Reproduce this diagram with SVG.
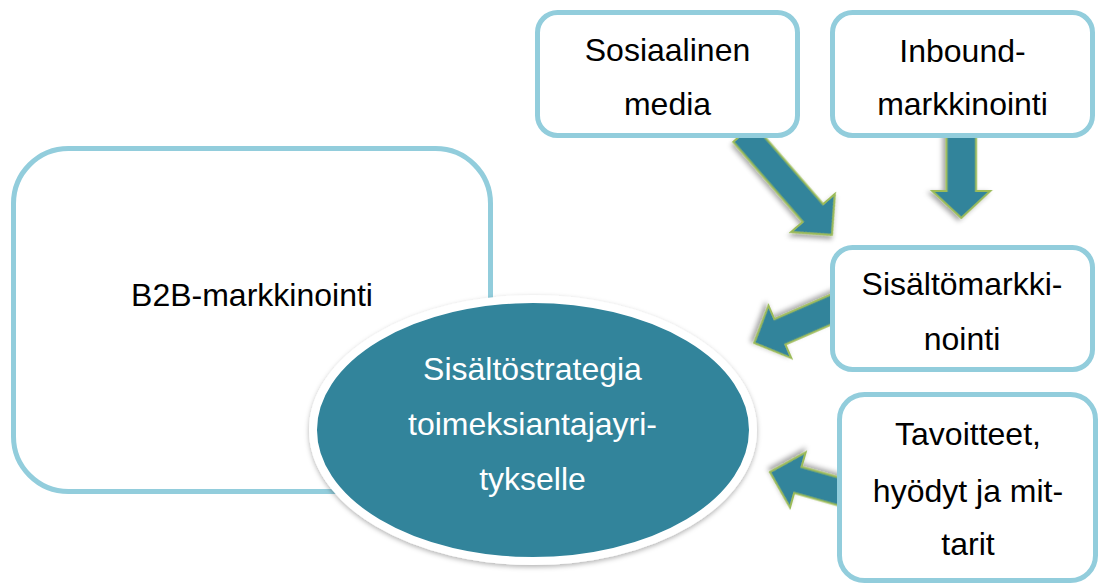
<svg xmlns="http://www.w3.org/2000/svg" width="1101" height="586" viewBox="0 0 1101 586">
<style>
.box{fill:#ffffff;stroke:#92CDDC;stroke-width:5}
.t{font-family:"Liberation Sans",Arial,sans-serif;font-size:32px;fill:#000000;text-anchor:middle}
.tw{font-family:"Liberation Sans",Arial,sans-serif;font-size:32px;fill:#ffffff;text-anchor:middle}
.arr{fill:#31849B;stroke:#9BBB59;stroke-width:2;stroke-linejoin:miter;filter:url(#sh)}
</style>
<defs>
<filter id="sh" x="-30%" y="-30%" width="160%" height="160%">
<feDropShadow dx="2" dy="3" stdDeviation="2.5" flood-color="#000000" flood-opacity="0.35"/>
</filter>
<filter id="esh" x="-10%" y="-10%" width="120%" height="125%">
<feDropShadow dx="0" dy="2" stdDeviation="2.5" flood-color="#000000" flood-opacity="0.3"/>
</filter>
</defs>
<g id="connectors">
<path class="arr" transform="translate(743.4,133) rotate(49)" d="M0,-13.5 L106,-13.5 L106,-29 L135,0 L106,29 L106,13.5 L0,13.5 Z"/>
<path class="arr" transform="translate(961.3,130) rotate(90)" d="M0,-14.7 L61,-14.7 L61,-29 L88,0 L61,29 L61,14.7 L0,14.7 Z"/>
<path class="arr" transform="translate(845,303.5) rotate(156.5)" d="M0,-13.75 L71,-13.75 L71,-28.6 L99,0 L71,28.6 L71,13.75 L0,13.75 Z"/>
<path class="arr" transform="translate(845,493.3) rotate(195.8)" d="M0,-13.5 L49,-13.5 L49,-28.6 L78,0 L49,28.6 L49,13.5 L0,13.5 Z"/>
</g>
<g id="b2b">
<rect class="box" x="13.5" y="148.5" width="477" height="343" rx="55" ry="55"/>
<text class="t" x="252" y="306">B2B-markkinointi</text>
</g>
<g id="sisaltostrategia">
<ellipse cx="533" cy="430" rx="220" ry="131" fill="#31849B" stroke="#ffffff" stroke-width="8" filter="url(#esh)"/>
<text class="tw" x="532.5" y="380">Sisältöstrategia</text>
<text class="tw" x="532.5" y="435">toimeksiantajayri-</text>
<text class="tw" x="532.5" y="490">tykselle</text>
</g>
<g id="sosiaalinen">
<rect class="box" x="537.5" y="12.5" width="260" height="123" rx="20" ry="20"/>
<text class="t" x="667.5" y="61">Sosiaalinen</text>
<text class="t" x="667.5" y="115">media</text>
</g>
<g id="inbound">
<rect class="box" x="832.5" y="12.5" width="260" height="123" rx="20" ry="20"/>
<text class="t" x="962.5" y="62">Inbound-</text>
<text class="t" x="962.5" y="115">markkinointi</text>
</g>
<g id="sisaltomarkkinointi">
<rect class="box" x="832.5" y="247.5" width="260" height="122" rx="20" ry="20"/>
<text class="t" x="962" y="295">Sisältömarkki-</text>
<text class="t" x="962" y="350">nointi</text>
</g>
<g id="tavoitteet">
<rect class="box" x="839.5" y="394.5" width="256" height="186" rx="25" ry="25"/>
<text class="t" x="968" y="445">Tavoitteet,</text>
<text class="t" x="968" y="502">hyödyt ja mit-</text>
<text class="t" x="968" y="555">tarit</text>
</g>
</svg>
